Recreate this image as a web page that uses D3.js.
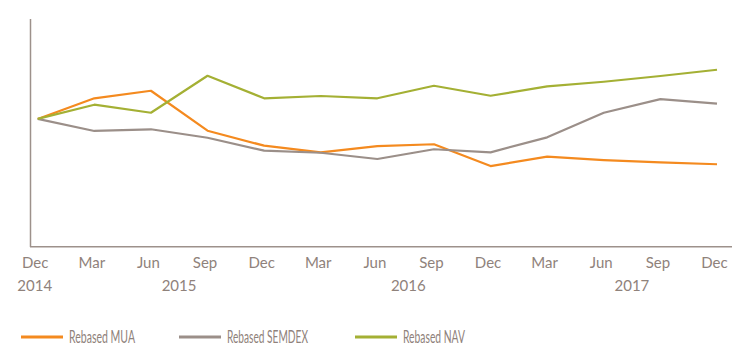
<!DOCTYPE html>
<html lang="en">
<head>
    <meta charset="UTF-8">
    <title>Rebased MUA vs SEMDEX vs NAV</title>
    <script src="https://d3js.org/d3.v7.min.js"></script>
    <style>
        body { margin: 0; background: #fff; }
        text { font-family: Lato, "Open Sans", sans-serif; fill: #8f827b; }
    </style>
</head>
<body>
    <div id="chart"></div>
    <script>
        // quarter labels along the x axis
        const months = ['Dec', 'Mar', 'Jun', 'Sep', 'Dec', 'Mar', 'Jun', 'Sep', 'Dec', 'Mar', 'Jun', 'Sep', 'Dec'];
        const years = [
            { year: '2014', at: 0 },
            { year: '2015', at: 2.55 },
            { year: '2016', at: 6.6 },
            { year: '2017', at: 10.55 }
        ];

        // rebased values (Dec 2014 = 100)
        const mua = [100, 116.1, 122.0, 90.8, 79.1, 73.9, 78.8, 80.2, 63.2, 70.5, 67.9, 66.1, 64.6];
        const semdex = [100, 90.6, 91.9, 85.3, 75.2, 73.6, 68.7, 76.3, 73.9, 85.6, 104.8, 115.5, 111.9];
        const nav = [100, 111.1, 104.8, 133.7, 116.1, 117.9, 116.1, 125.9, 118.1, 125.4, 129.0, 133.5, 138.4];

        const series = [
            { name: 'Rebased MUA', values: mua, color: '#f48a1f', w: 66 },
            { name: 'Rebased SEMDEX', values: semdex, color: '#9b8f89', w: 81 },
            { name: 'Rebased NAV', values: nav, color: '#a4b034', w: 62 }
        ];

        const width = 752, height = 358;
        const svg = d3.select('#chart').append('svg')
            .attr('width', width)
            .attr('height', height);

        const x = d3.scaleLinear().domain([0, 12]).range([37.7, 717]);
        const y = d3.scaleLinear().domain([0, 178]).range([247, 19]);

        // axes (plain lines, no ticks)
        svg.append('line')
            .attr('x1', 30.5).attr('x2', 30.5)
            .attr('y1', 19).attr('y2', 247)
            .attr('stroke', '#9d918b').attr('stroke-width', 1.5);
        svg.append('line')
            .attr('x1', 30).attr('x2', 732)
            .attr('y1', 246.7).attr('y2', 246.7)
            .attr('stroke', '#9d918b').attr('stroke-width', 1.5);

        // month labels
        svg.append('g').selectAll('text')
            .data(months)
            .enter().append('text')
            .attr('x', (d, i) => x(i) - 2.5)
            .attr('y', 268)
            .attr('text-anchor', 'middle')
            .style('font-size', '15px')
            .text(d => d);

        // year labels
        svg.append('g').selectAll('text')
            .data(years)
            .enter().append('text')
            .attr('x', d => x(d.at) - 3)
            .attr('y', 291)
            .attr('text-anchor', 'middle')
            .style('font-size', '15px')
            .text(d => d.year);

        const line = d3.line()
            .x((d, i) => x(i))
            .y(d => y(d));

        svg.append('g').selectAll('path')
            .data(series)
            .enter().append('path')
            .attr('d', d => line(d.values))
            .attr('fill', 'none')
            .attr('stroke', d => d.color)
            .attr('stroke-width', 2.2)
            .attr('stroke-linejoin', 'round');

        // legend
        const legendX = [21, 179, 355];
        const legend = svg.append('g').selectAll('g')
            .data(series)
            .enter().append('g')
            .attr('transform', (d, i) => 'translate(' + legendX[i] + ',337)');

        legend.append('line')
            .attr('x1', 0).attr('x2', 42)
            .attr('stroke', d => d.color)
            .attr('stroke-width', 3);

        legend.append('text')
            .attr('x', 48)
            .attr('y', 5.8)
            .attr('textLength', d => d.w)
            .attr('lengthAdjust', 'spacingAndGlyphs')
            .style('font-size', '16.5px')
            .text(d => d.name);
    </script>
</body>
</html>
